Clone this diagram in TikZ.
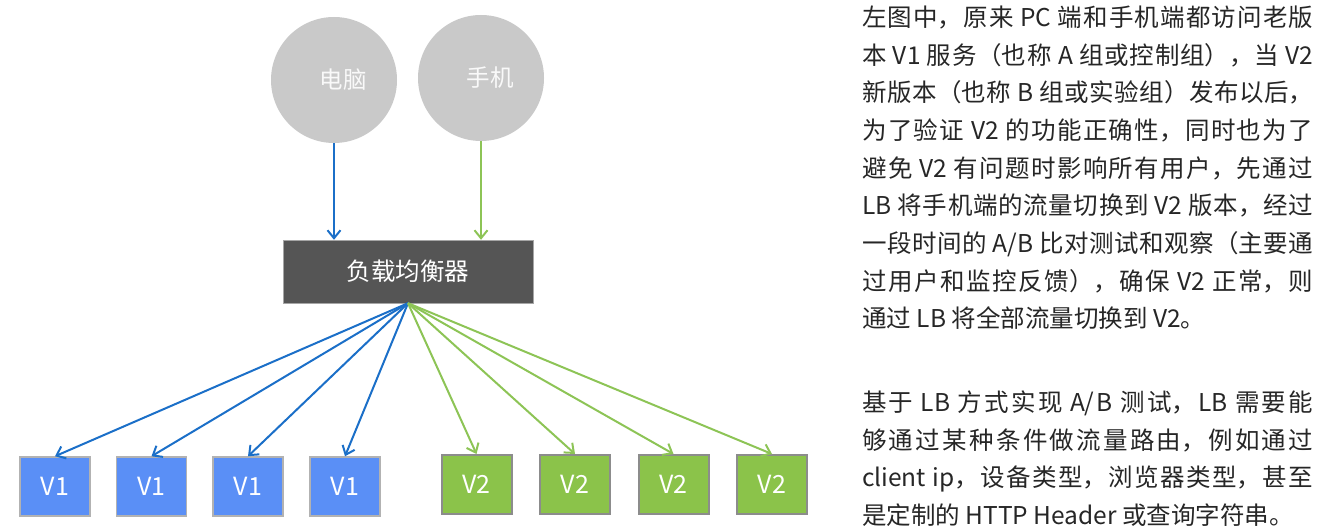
\documentclass[tikz,border=0pt]{standalone}
\usepackage{fontspec}
\setmainfont{Noto Sans CJK SC}
\usetikzlibrary{arrows.meta}
\XeTeXlinebreaklocale "zh"
\XeTeXlinebreakskip=0pt plus 3pt minus 1pt

\definecolor{pcblue}{HTML}{1B6FC8}
\definecolor{phonegreen}{HTML}{8DC456}
\definecolor{oldblue}{HTML}{5A8FF6}
\definecolor{newgreen}{HTML}{8BC34A}
\definecolor{lbgray}{HTML}{555555}
\definecolor{clientgray}{HTML}{C9C9C9}

\tikzset{
  client/.style={circle,fill=clientgray,minimum size=126pt,inner sep=0pt},
  clientname/.style={text=white!95!gray,xshift=9pt,font=\fontsize{23.5}{28}\selectfont},
  balancer/.style={draw=gray!70,fill=lbgray,minimum width=250pt,minimum height=63pt,
    text=white,font=\fontsize{24.5}{30}\selectfont},
  oldsrv/.style={draw=gray!60,line width=1.5pt,fill=oldblue,minimum width=70pt,
    minimum height=59pt,text=white,font=\fontsize{25}{30}\selectfont},
  newsrv/.style={draw=gray!90,line width=2pt,fill=newgreen,minimum width=70pt,
    minimum height=59pt,text=white,font=\fontsize{25}{30}\selectfont},
  oldflow/.style={draw=pcblue,line width=2pt,-{Straight Barb[length=8pt,width=13pt]}},
  newflow/.style={draw=phonegreen,line width=2pt,-{Straight Barb[length=8pt,width=13pt]}},
  note/.style={anchor=north west,inner sep=0pt,text width=451pt,align=justify,
    text=black!85,font=\fontsize{24.5}{37.7}\selectfont}
}

\begin{document}
\begin{tikzpicture}[x=1pt,y=-1pt]
  \useasboundingbox (0,0) rectangle (1324,526);

  \node[client,label={[clientname]center:电脑}] (pc) at (334,80) {};
  \node[client,label={[clientname]center:手机}] (phone) at (481,78) {};

  \node[balancer] (lb) at (408,271.5) {负载均衡器};

  \node[oldsrv] (v1a) at (55,486.5) {V1};
  \node[oldsrv] (v1b) at (151.5,486.5) {V1};
  \node[oldsrv] (v1c) at (248,486.5) {V1};
  \node[oldsrv] (v1d) at (345,486.5) {V1};

  \node[newsrv] (v2a) at (476.5,484.5) {V2};
  \node[newsrv] (v2b) at (575,484.5) {V2};
  \node[newsrv] (v2c) at (673.5,484.5) {V2};
  \node[newsrv] (v2d) at (772,484.5) {V2};

  \draw[oldflow] (pc) -- (pc |- lb.north);
  \draw[newflow] (phone) -- (phone |- lb.north);

  \draw[oldflow] (lb.south) -- (v1a.north);
  \draw[oldflow] (lb.south) -- (v1b.north);
  \draw[oldflow] (lb.south) -- (v1c.north);
  \draw[oldflow] (lb.south) -- (v1d.north);
  \draw[newflow] (lb.south) -- (v2a.north);
  \draw[newflow] (lb.south) -- (v2b.north);
  \draw[newflow] (lb.south) -- (v2c.north);
  \draw[newflow] (lb.south) -- (v2d.north);

  \node[note] (intro) at (862,5.5) {\noindent
    左图中，原来 PC 端和手机端都访问老版\linebreak
    本 V1 服务（也称 A 组或控制组），当 V2\linebreak
    新版本（也称 B 组或实验组）发布以后，\linebreak
    为了验证 V2 的功能正确性，同时也为了\linebreak
    避免 V2 有问题时影响所有用户，先通过\linebreak
    LB 将手机端的流量切换到 V2 版本，经过\linebreak
    一段时间的 A/B 比对测试和观察（主要通\linebreak
    过用户和监控反馈），确保 V2 正常，则\linebreak
    通过 LB 将全部流量切换到 V2。};

  \node[note] (lbnote) at (862,390.5) {\noindent
    基于 LB 方式实现 A/B 测试，LB 需要能\linebreak
    够通过某种条件做流量路由，例如通过\linebreak
    client ip，设备类型，浏览器类型，甚至\linebreak
    是定制的 HTTP Header 或查询字符串。};
\end{tikzpicture}
\end{document}
